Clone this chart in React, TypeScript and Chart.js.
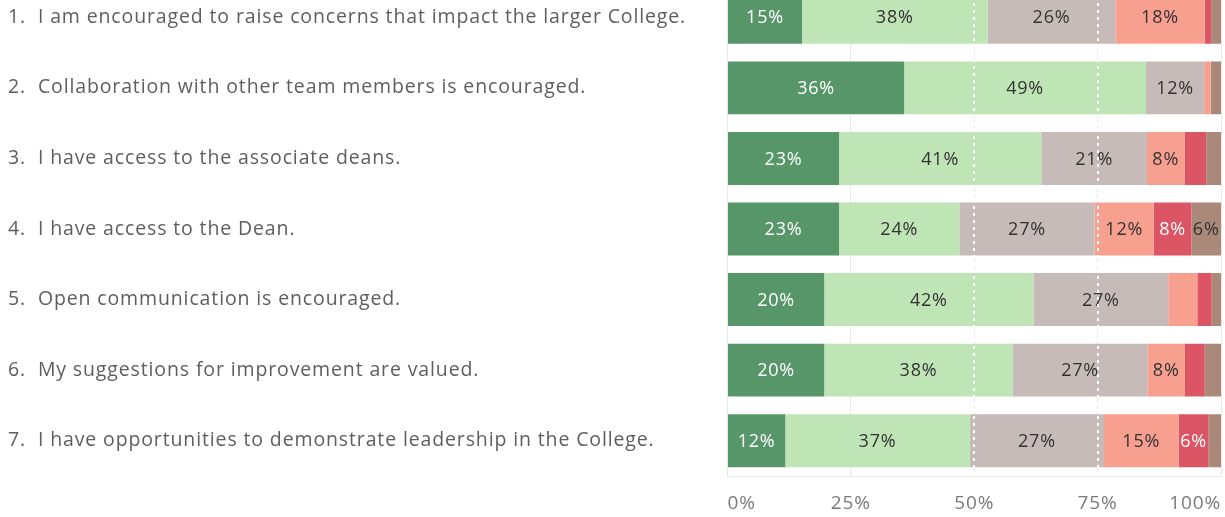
import React, { useEffect, useRef } from "react";
import { Chart, registerables } from "chart.js";

Chart.register(...registerables);

const questions = [
  "1.  I am encouraged to raise concerns that impact the larger College.",
  "2.  Collaboration with other team members is encouraged.",
  "3.  I have access to the associate deans.",
  "4.  I have access to the Dean.",
  "5.  Open communication is encouraged.",
  "6.  My suggestions for improvement are valued.",
  "7.  I have opportunities to demonstrate leadership in the College.",
];

const responseLevels = ["Strongly agree", "Agree", "Neutral", "Disagree", "Strongly disagree", "N/A"];

const stronglyAgree = [15.1, 35.8, 22.6, 22.6, 19.6, 19.6, 11.7];
const agree = [37.6, 49.0, 41.0, 24.4, 42.4, 38.2, 37.4];
const neutral = [25.9, 11.8, 21.4, 27.4, 27.3, 27.3, 27.2];
const disagree = [18.1, 1.3, 7.6, 12.0, 5.9, 7.6, 15.1];
const stronglyDisagree = [1.3, 0, 4.4, 7.6, 2.9, 4.0, 6.1];
const notApplicable = [2.0, 2.1, 3.0, 6.0, 1.9, 3.3, 2.5];

const xTicks = [0, 25, 50, 75, 100];
const referenceLines = [50, 75];

const seriesValues = [stronglyAgree, agree, neutral, disagree, stronglyDisagree, notApplicable];
const seriesColors = ["#579668", "#bfe4b5", "#c6bbb8", "#f8a090", "#db5565", "#aa897a"];
const labelColors = ["#ffffff", "#333333", "#333333", "#333333", "#ffffff", "#333333"];

const FONT = "'Open Sans', 'DejaVu Sans', sans-serif";

const spacingPlugin = {
  id: "spacing",
  beforeDraw(chart: any) {
    (chart.ctx as any).letterSpacing = "0.87px";
  },
};

const labelPlugin = {
  id: "segmentLabels",
  afterDatasetsDraw(chart: any) {
    const ctx = chart.ctx;
    ctx.save();
    (ctx as any).letterSpacing = "0.8px";
    ctx.font = `18px ${FONT}`;
    ctx.textAlign = "center";
    ctx.textBaseline = "middle";
    chart.data.datasets.forEach((ds: any, di: number) => {
      const meta = chart.getDatasetMeta(di);
      meta.data.forEach((el: any, i: number) => {
        const v = ds.data[i];
        if (v < 5.95) return;
        const cx = (el.x + el.base) / 2;
        ctx.fillStyle = labelColors[di];
        ctx.fillText(Math.round(v) + "%", cx, el.y + 1);
      });
    });
    const xs = chart.scales.x;
    const area = chart.chartArea;
    ctx.strokeStyle = "#ffffff";
    ctx.lineWidth = 2;
    ctx.setLineDash([3, 4]);
    referenceLines.forEach((r) => {
      const px = Math.round(xs.getPixelForValue(r));
      ctx.beginPath();
      ctx.moveTo(px, area.top);
      ctx.lineTo(px, area.bottom);
      ctx.stroke();
    });
    ctx.restore();
  },
};

export default function App() {
  const ref = useRef<HTMLCanvasElement | null>(null);
  useEffect(() => {
    if (!ref.current) return;
    const chart = new Chart(ref.current, {
      type: "bar",
      data: {
        labels: questions,
        datasets: responseLevels.map((name, i) => ({
          label: name,
          data: seriesValues[i],
          backgroundColor: seriesColors[i],
          borderWidth: 0,
          barPercentage: 0.75,
          categoryPercentage: 1,
        })),
      },
      options: {
        indexAxis: "y",
        animation: false,
        responsive: false,
        maintainAspectRatio: false,
        layout: { padding: { left: 8, right: 4, top: 12, bottom: 4 } },
        plugins: {
          legend: { display: false },
          tooltip: { enabled: false },
        },
        scales: {
          x: {
            stacked: true,
            min: 0,
            max: 100,
            afterBuildTicks(scale: any) {
              scale.ticks = xTicks.map((v) => ({ value: v }));
            },
            afterFit(scale: any) {
              scale.height = 37;
              scale.paddingLeft = 0;
              scale.paddingRight = 0;
            },
            ticks: {
              align: "inner",
              padding: 16,
              color: "#7a7a7a",
              font: { family: FONT, size: 19 },
              callback: (v: any) => v + "%",
            },
            grid: { color: "#e9e9e9", lineWidth: 1, drawTicks: false },
            border: { display: true, color: "#e9e9e9" },
          },
          y: {
            stacked: true,
            afterFit(scale: any) {
              scale.width = 719.5;
              scale.paddingTop = 0;
              scale.paddingBottom = 0;
            },
            ticks: {
              crossAlign: "far",
              color: "#5e5e5e",
              font: { family: FONT, size: 19.5 },
              padding: 0,
            },
            grid: { display: false, drawTicks: false },
            border: { display: true, color: "#e9e9e9" },
          },
        },
      },
      plugins: [spacingPlugin, labelPlugin],
    });
    return () => chart.destroy();
  }, []);
  return (
    <div style={{ position: "absolute", left: 0, top: -30, width: 1225, height: 547 }}>
      <canvas ref={ref} width={1225} height={547} style={{ display: "block" }} />
    </div>
  );
}
